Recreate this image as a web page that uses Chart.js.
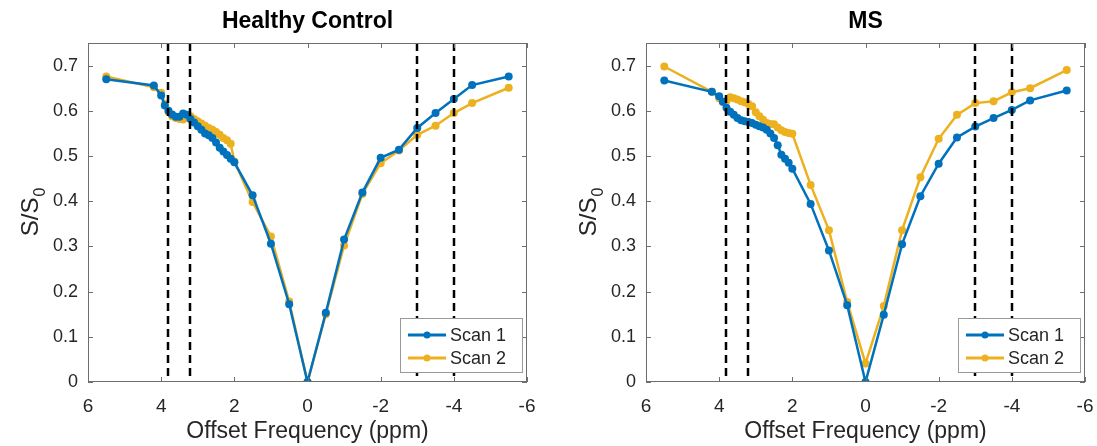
<!DOCTYPE html>
<html>
<head>
<meta charset="utf-8">
<script src="https://cdn.jsdelivr.net/npm/chart.js@4.4.1/dist/chart.umd.min.js"></script>
<style>
  html, body { margin: 0; padding: 0; background: #fff; }
  #wrap { position: relative; width: 1097px; height: 446px; }
  .panel { position: absolute; top: 0; height: 446px; }
  #hc { left: 0; width: 548px; }
  #ms { left: 548px; width: 549px; }
</style>
</head>
<body>
<div id="wrap">
  <div class="panel" id="hc"><canvas id="hcChart"></canvas></div>
  <div class="panel" id="ms"><canvas id="msChart"></canvas></div>
</div>
<script>
// offset frequencies (ppm), shared by every scan
const offsets = [5.5, 4.2, 4.0, 3.9, 3.8, 3.7, 3.6, 3.5, 3.4, 3.3, 3.2, 3.1, 3.0, 2.9, 2.8, 2.7,
  2.6, 2.5, 2.4, 2.3, 2.2, 2.1, 2.0, 1.5, 1.0, 0.5, 0, -0.5, -1.0, -1.5, -2.0, -2.5, -3.0,
  -3.5, -4.0, -4.5, -5.5];

// healthy control
const hcScan1 = [0.670, 0.656, 0.634, 0.612, 0.600, 0.592, 0.587, 0.587, 0.594, 0.591, 0.582,
  0.574, 0.566, 0.558, 0.550, 0.546, 0.540, 0.530, 0.518, 0.510, 0.502, 0.494, 0.486, 0.413,
  0.306, 0.172, 0, 0.153, 0.315, 0.419, 0.496, 0.514, 0.562, 0.595, 0.626, 0.657, 0.676];
const hcScan2 = [0.676, 0.652, 0.640, 0.615, 0.598, 0.588, 0.584, 0.582, 0.581, 0.585, 0.588,
  0.582, 0.577, 0.572, 0.567, 0.562, 0.558, 0.553, 0.547, 0.540, 0.535, 0.527, 0.488, 0.398,
  0.322, 0.178, 0, 0.150, 0.302, 0.416, 0.484, 0.512, 0.547, 0.567, 0.595, 0.617, 0.651];

// MS patient
const msScan1 = [0.667, 0.642, 0.632, 0.620, 0.607, 0.598, 0.591, 0.584, 0.579, 0.577, 0.575,
  0.573, 0.569, 0.566, 0.563, 0.558, 0.550, 0.540, 0.524, 0.503, 0.494, 0.485, 0.472, 0.394,
  0.291, 0.170, 0, 0.149, 0.305, 0.411, 0.483, 0.541, 0.565, 0.584, 0.602, 0.623, 0.645];
const msScan2 = [0.698, 0.642, 0.628, 0.620, 0.622, 0.630, 0.628, 0.625, 0.621, 0.619, 0.615,
  0.610, 0.597, 0.588, 0.580, 0.573, 0.571, 0.570, 0.563, 0.557, 0.553, 0.551, 0.549, 0.436,
  0.336, 0.177, 0.041, 0.168, 0.336, 0.453, 0.538, 0.591, 0.617, 0.621, 0.641, 0.650, 0.690];

// dashed markers at the analysed frequency bands
const bandLines = [3.8, 3.2, -3.0, -4.0];

const xTicks = [6, 4, 2, 0, -2, -4, -6];
const xTickLabels = ['6', '4', '2', '0', '-2', '-4', '-6'];
const yTicks = [0, 0.1, 0.2, 0.3, 0.4, 0.5, 0.6, 0.7];
const yTickLabels = ['0', '0.1', '0.2', '0.3', '0.4', '0.5', '0.6', '0.7'];

const seriesNames = ['Scan 1', 'Scan 2'];
const blue = '#0072BD';
const yellow = '#EDB120';
const ink = '#262626';
const FONT = '"Liberation Sans", Arial, Helvetica, sans-serif';

Chart.defaults.font.family = FONT;
Chart.defaults.color = ink;

const toPoints = vals => offsets.map((x, i) => ({ x: x, y: vals[i] }));

// box, inward ticks, dashed band lines, title, y label and legend
const framePlugin = {
  id: 'frame',
  afterDatasetsDraw(chart, args, opts) {
    const { ctx, chartArea: a, scales: { x, y } } = chart;
    ctx.save();

    ctx.strokeStyle = '#000';
    ctx.lineWidth = 2.5;
    ctx.setLineDash([8, 5]);
    bandLines.forEach(v => {
      const px = Math.round(x.getPixelForValue(v));
      ctx.beginPath();
      ctx.moveTo(px, a.top);
      ctx.lineTo(px, a.bottom);
      ctx.stroke();
    });
    ctx.setLineDash([]);

    ctx.strokeStyle = '#6e6e6e';
    ctx.lineWidth = 1;
    ctx.strokeRect(a.left + 0.5, a.top + 0.5, a.right - a.left - 1, a.bottom - a.top - 1);
    const tl = 5;
    ctx.beginPath();
    xTicks.forEach(v => {
      const px = Math.round(x.getPixelForValue(v)) + 0.5;
      ctx.moveTo(px, a.bottom); ctx.lineTo(px, a.bottom - tl);
      ctx.moveTo(px, a.top); ctx.lineTo(px, a.top + tl);
    });
    yTicks.forEach(v => {
      const py = Math.round(y.getPixelForValue(v)) + 0.5;
      ctx.moveTo(a.left, py); ctx.lineTo(a.left + tl, py);
      ctx.moveTo(a.right, py); ctx.lineTo(a.right - tl, py);
    });
    ctx.stroke();
    ctx.restore();
  },
  afterDraw(chart, args, opts) {
    const { ctx, chartArea: a } = chart;
    ctx.save();

    // panel title
    ctx.fillStyle = '#000';
    ctx.font = 'bold 23px ' + FONT;
    ctx.textAlign = 'center';
    ctx.textBaseline = 'middle';
    ctx.fillText(opts.title, (a.left + a.right) / 2, 22);

    // y axis label S/S0 with subscript
    ctx.translate(a.left - 58, (a.top + a.bottom) / 2);
    ctx.rotate(-Math.PI / 2);
    ctx.fillStyle = ink;
    ctx.textBaseline = 'alphabetic';
    const main = 'S/S';
    ctx.font = '24px ' + FONT;
    const w1 = ctx.measureText(main).width;
    ctx.font = '16px ' + FONT;
    const w2 = ctx.measureText('0').width;
    const x0 = -(w1 + w2) / 2;
    ctx.textAlign = 'left';
    ctx.font = '24px ' + FONT;
    ctx.fillText(main, x0, 8);
    ctx.font = '16px ' + FONT;
    ctx.fillText('0', x0 + w1 + 1, 15);
    ctx.setTransform(1, 0, 0, 1, 0, 0);

    // legend in the lower right corner
    const bw = 123, bh = 55;
    const bx = a.right - 4 - bw, by = a.bottom - 9 - bh;
    ctx.fillStyle = '#fff';
    ctx.fillRect(bx, by, bw, bh);
    ctx.strokeStyle = '#9a9a9a';
    ctx.lineWidth = 1;
    ctx.strokeRect(bx + 0.5, by + 0.5, bw - 1, bh - 1);
    ctx.font = '18px ' + FONT;
    ctx.textAlign = 'left';
    ctx.textBaseline = 'middle';
    chart.data.datasets.forEach((ds, i) => {
      const cy = by + 17 + i * 23;
      ctx.strokeStyle = ds.borderColor;
      ctx.lineWidth = 3;
      ctx.beginPath();
      ctx.moveTo(bx + 8, cy);
      ctx.lineTo(bx + 46, cy);
      ctx.stroke();
      ctx.fillStyle = ds.borderColor;
      ctx.beginPath();
      ctx.arc(bx + 27, cy, 3.5, 0, Math.PI * 2);
      ctx.fill();
      ctx.fillStyle = ink;
      ctx.fillText(ds.label, bx + 50, cy + 1);
    });
    ctx.restore();
  }
};

function makePanel(canvasId, title, scan1, scan2, axisWidth, padRight) {
  const line = color => ({
    borderColor: color,
    backgroundColor: color,
    borderWidth: 2.5,
    pointRadius: 4,
    pointHoverRadius: 4,
    pointBorderWidth: 0,
    showLine: true,
    tension: 0
  });
  return new Chart(document.getElementById(canvasId), {
    type: 'scatter',
    data: {
      datasets: [
        Object.assign({ label: seriesNames[0], data: toPoints(scan1) }, line(blue)),
        Object.assign({ label: seriesNames[1], data: toPoints(scan2) }, line(yellow))
      ]
    },
    options: {
      responsive: true,
      maintainAspectRatio: false,
      animation: false,
      layout: { padding: { left: 0, right: padRight, top: 43, bottom: 0 } },
      plugins: {
        legend: { display: false },
        tooltip: { enabled: false },
        frame: { title: title }
      },
      scales: {
        x: {
          type: 'linear',
          reverse: true,
          min: -6,
          max: 6,
          grid: { display: false, drawTicks: false },
          border: { display: false },
          afterBuildTicks: s => { s.ticks = xTicks.map(v => ({ value: v })); },
          afterFit: s => {
            s.height = 64;
            // end labels may hang past the plot box
            s.paddingLeft = 0;
            s.paddingRight = 0;
          },
          ticks: {
            padding: 13,
            font: { size: 19 },
            color: ink,
            maxRotation: 0,
            callback: v => xTickLabels[xTicks.indexOf(v)]
          },
          title: {
            display: true,
            text: 'Offset Frequency (ppm)',
            font: { size: 23 },
            color: ink,
            padding: { top: 0, bottom: 1 }
          }
        },
        y: {
          type: 'linear',
          min: 0,
          max: 0.75,
          grid: { display: false, drawTicks: false },
          border: { display: false },
          afterBuildTicks: s => { s.ticks = yTicks.map(v => ({ value: v })); },
          afterFit: s => { s.width = axisWidth; },
          ticks: {
            padding: 10,
            font: { size: 18 },
            color: ink,
            callback: v => yTickLabels[yTicks.indexOf(v)]
          }
        }
      }
    },
    plugins: [framePlugin]
  });
}

makePanel('hcChart', 'Healthy Control', hcScan1, hcScan2, 88, 21);
makePanel('msChart', 'MS', msScan1, msScan2, 98, 12);
</script>
</body>
</html>
